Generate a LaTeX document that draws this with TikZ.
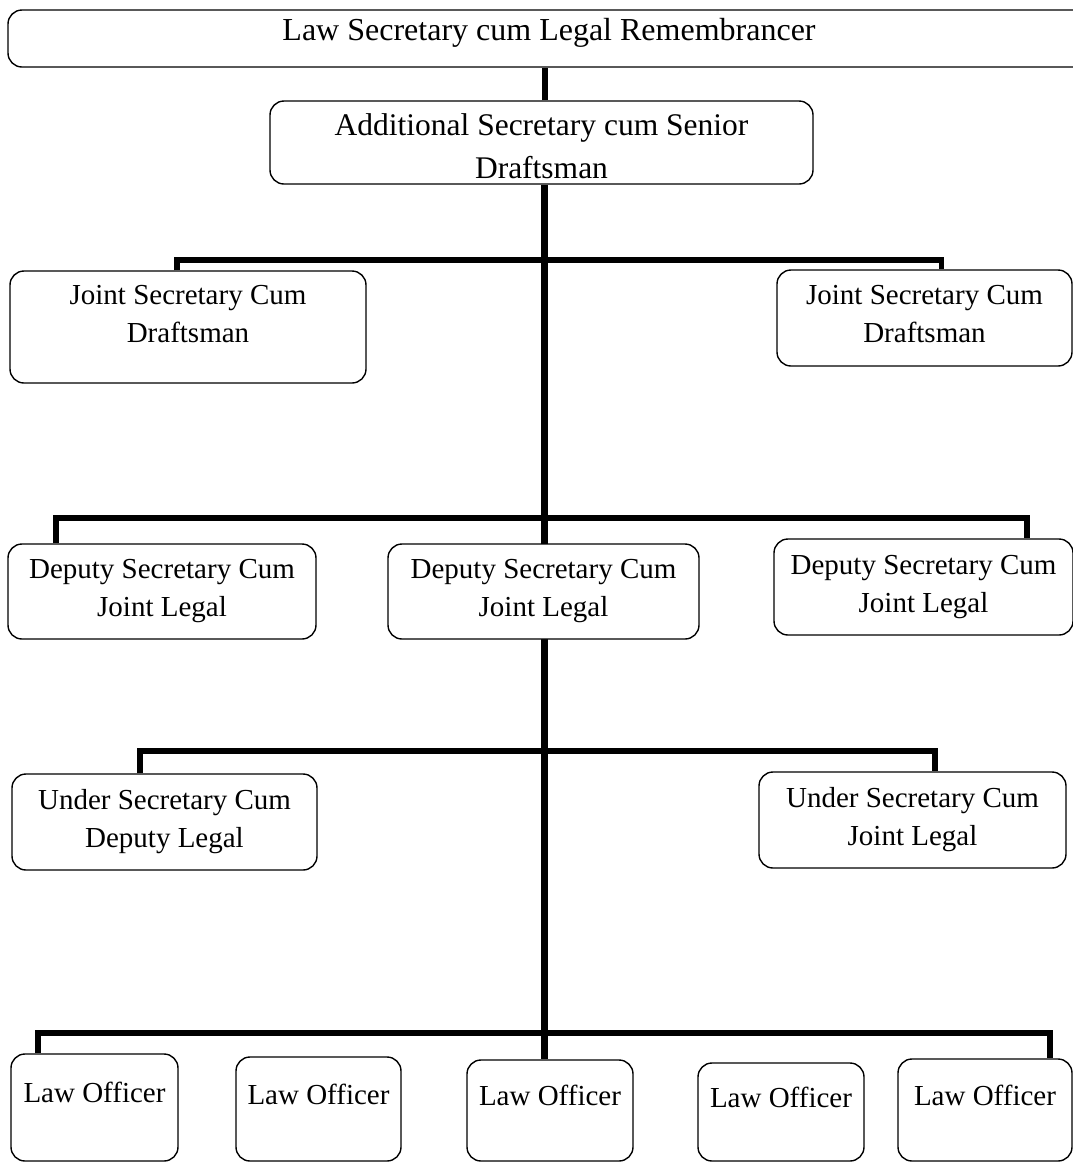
\documentclass[tikz,border=0pt]{standalone}
\usepackage{fontspec}
\setmainfont{Liberation Serif}
\usetikzlibrary{positioning}
\usetikzlibrary{backgrounds}
\tikzstyle{rankbox}=[draw,rounded corners=14pt,fill=white,line width=1.4pt,align=center,inner sep=2pt,font=\fontsize{29}{38}\selectfont]
\tikzstyle{headbox}=[rankbox,font=\fontsize{31.5}{43}\selectfont]
\tikzstyle{officerbox}=[rankbox,text height=20pt,text depth=30pt]
\tikzstyle{bar} = [draw,line width=5.5pt]
\tikzstyle{trunk} = [draw,line width=7pt]

\begin{document}
\begin{tikzpicture}[x=1pt,y=-1pt]
   \useasboundingbox (0,0) rectangle (1073,1163);
   \clip (0,0) rectangle (1073,1163);

   \node[headbox,minimum width=1082pt,minimum height=57pt,text height=22pt,text depth=19pt,font=\fontsize{32}{40}\selectfont] (lawsec) at (549,38.5) {Law Secretary cum Legal Remembrancer};
   \node[headbox,minimum width=543pt,minimum height=83pt,text height=73pt] (addsec) at (541.5,142.5) {Additional Secretary cum Senior\\Draftsman};
   \node[rankbox,minimum width=356pt,minimum height=112pt,text depth=26pt] (jsL) at (188,327) {Joint Secretary Cum\\Draftsman};
   \node[rankbox,minimum width=295pt,minimum height=96pt,text depth=8pt] (jsR) at (924.5,318) {Joint Secretary Cum\\Draftsman};

   \foreach \name/\x/\y/\w/\h/\txt in {dsL/162/591.5/308/95/{Deputy Secretary Cum\\Joint Legal},
        dsM/543.5/591.5/311/95/{Deputy Secretary Cum\\Joint Legal}, dsR/923.5/587/299/96/{Deputy Secretary Cum\\Joint Legal},
        usL/164.5/822/305/96/{Under Secretary Cum\\Deputy Legal}, usR/912.5/820/307/96/{Under Secretary Cum\\Joint Legal}}
        \node[rankbox,minimum width=\w pt,minimum height=\h pt] (\name) at (\x,\y) {\txt};

   \foreach \name/\x/\y/\w/\h in {lo1/94.5/1107.5/167/107, lo2/318.5/1109/165/104, lo3/550/1110.5/166/101, lo4/781/1112/166/98, lo5/985/1110/174/102}
        \node[officerbox,minimum width=\w pt,minimum height=\h pt] (\name) at (\x,\y) {Law Officer};

   \begin{scope}[on background layer]
   \coordinate (top) at ([xshift=2.5pt]addsec.south);
   \path[trunk] (top) -- (top |- lo3.north);
   \path[trunk,line width=6pt] ([xshift=3.5pt]addsec.north) -- ([xshift=3.5pt]addsec.north |- lawsec.south);
   \foreach \lft/\rgt/\dl/\dr/\lvl in {jsL/jsR/-11/17/260, dsL/dsR/-106/103.5/518, usL/usR/-24.5/22.5/751, lo1/lo5/-56.5/65/1033}
        \path[bar] ([xshift=\dl pt]\lft.north) |- (top |- 0,\lvl) -| ([xshift=\dr pt]\rgt.north);
   \end{scope}
\end{tikzpicture}
\end{document}
